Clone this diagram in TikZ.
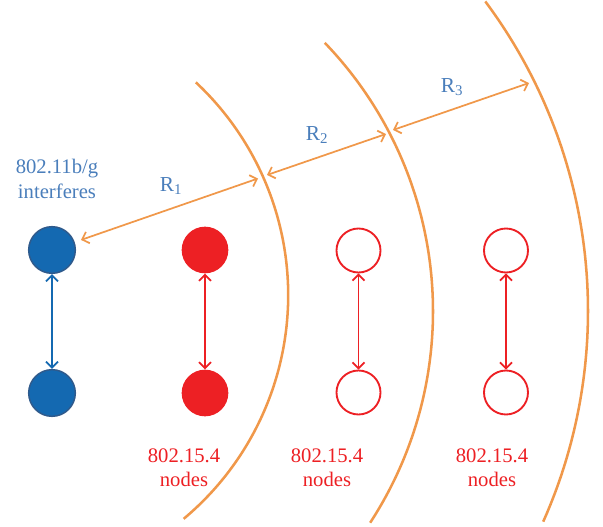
\documentclass[tikz,border=0pt]{standalone}
\usepackage{fontspec}
\setmainfont{Liberation Serif}
\usetikzlibrary{arrows.meta}
\definecolor{orng}{HTML}{F0984A}
\definecolor{bluetxt}{HTML}{4A7EBB}
\definecolor{bluefill}{HTML}{1469B1}
\definecolor{blueedge}{HTML}{2F5A8C}
\definecolor{redc}{HTML}{ED2024}
\tikzset{
  tipb/.tip={Straight Barb[length=4.5pt,width=9pt]},
  bnode/.style={circle,minimum size=35pt,inner sep=0pt,fill=bluefill,draw=blueedge,line width=1.1pt},
  rnode/.style={circle,minimum size=35pt,inner sep=0pt,fill=redc},
  onode/.style={circle,minimum size=33pt,inner sep=0pt,draw=redc,line width=1.4pt,fill=white},
  ring/.style={draw=orng,line width=1.9pt},
  rarrow/.style={draw=orng,line width=1.3pt,{tipb}-{tipb}},
  varrow/.style={line width=1.3pt,{tipb}-{tipb}},
  lbl/.style={text=bluetxt,font=\fontsize{16}{18}\selectfont},
  bluelbl/.style={text=bluetxt,align=center,font=\fontsize{15.5}{18.5}\selectfont},
  redlbl/.style={text=redc,align=center,font=\fontsize{15.5}{18}\selectfont}
}
\begin{document}
\begin{tikzpicture}[x=0.75pt,y=-0.75pt]
\path[use as bounding box] (0,0) rectangle (603,527);
% rings
\draw[ring] plot[domain=-46.9:50.1,samples=120] ({-3.3+291.5*cos(\x)},{295.2+291.5*sin(\x)});
\draw[ring] plot[domain=-43.9:33.1,samples=120] ({45.8+387.2*cos(\x)},{311.3+387.2*sin(\x)});
\draw[ring] plot[domain=-36.7:24.0,samples=120] ({70+518*cos(\x)},{311+518*sin(\x)});
% nodes
\node[bnode] (b1) at (52,250) {};
\node[bnode] (b2) at (52,393) {};
\node[rnode] (f1) at (205,250) {};
\node[rnode] (f2) at (205,393) {};
\node[onode] (o1) at (358.5,250.5) {};
\node[onode] (o2) at (358.5,392.5) {};
\node[onode] (p1) at (506,250.5) {};
\node[onode] (p2) at (506,392.5) {};
% vertical links
\draw[varrow,draw=bluefill] (b1) -- (b2);
\draw[varrow,draw=redc] (f1) -- (f2);
\draw[varrow,draw=redc] (o1) -- (o2);
\draw[varrow,draw=redc] (p1) -- (p2);
% range arrows
\coordinate (r1b) at (258,178.5);
\coordinate (r2a) at (267,175);
\coordinate (r2b) at (386,134);
\coordinate (r3a) at (393,130);
\coordinate (r3b) at (529,83);
\draw[rarrow,shorten <=5pt] (b1) -- (r1b);
\draw[rarrow] (r2a) -- (r2b);
\draw[rarrow] (r3a) -- (r3b);
% labels
\node[lbl] (R1) at (171,186) {R\textsubscript{1}};
\node[lbl] (R2) at (317,135) {R\textsubscript{2}};
\node[lbl] (R3) at (452,87) {R\textsubscript{3}};
\node[bluelbl] (wifi) at (57,179) {802.11b/g\\interferes};
\node[redlbl] (n1) at (184,468) {802.15.4\\nodes};
\node[redlbl] (n2) at (327,468) {802.15.4\\nodes};
\node[redlbl] (n3) at (492,468) {802.15.4\\nodes};
\end{tikzpicture}
\end{document}
